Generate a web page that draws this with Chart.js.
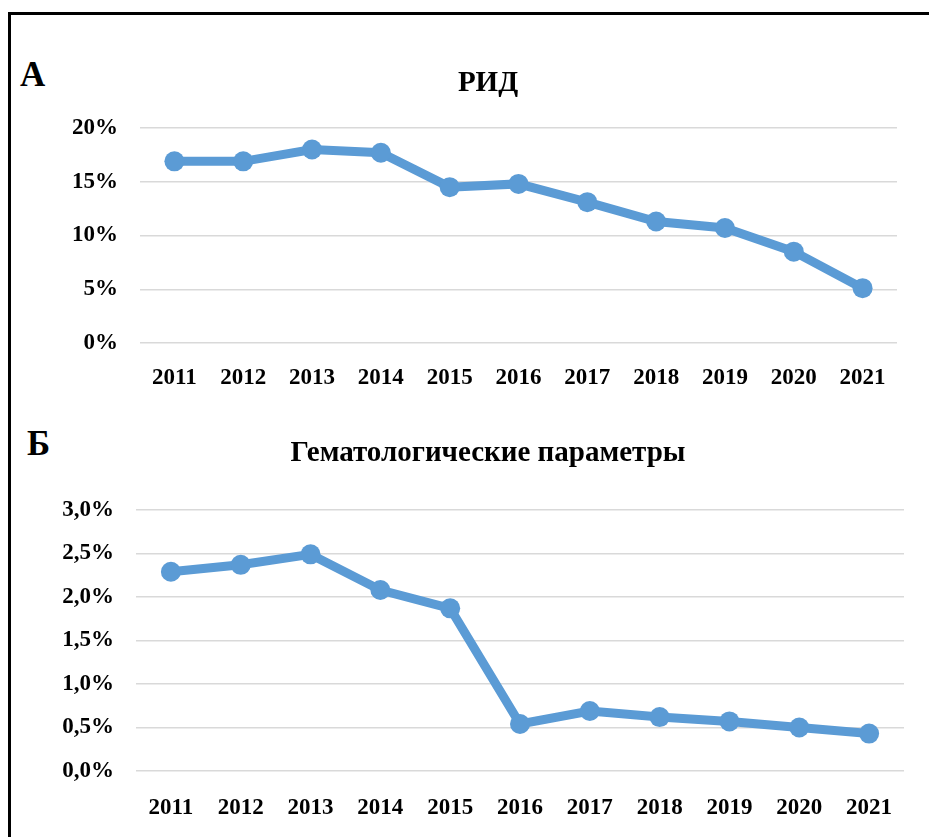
<!DOCTYPE html>
<html>
<head>
<meta charset="utf-8">
<script src="https://cdn.jsdelivr.net/npm/chart.js@4"></script>
<style>
    body { margin: 0; background: #fff; width: 929px; height: 837px; overflow: hidden; position: relative; }
    .frame { position: absolute; left: 8px; top: 12px; width: 1000px; height: 900px; border-left: 3px solid #000; border-top: 3px solid #000; }
    .letter { position: absolute; font: bold 35px "Liberation Serif", serif; line-height: 1; color: #000; }
    .box { position: absolute; left: 0; width: 976px; }
</style>
</head>
<body>
<div class="frame"></div>
<div class="letter" style="left:20px; top:57px;">А</div>
<div class="letter" style="left:27px; top:426px;">Б</div>
<div class="box" style="top:40px; height:370px;"><canvas id="chartRid"></canvas></div>
<div class="box" style="top:410px; height:427px;"><canvas id="chartHem"></canvas></div>

<script>
const years = ["2011", "2012", "2013", "2014", "2015", "2016", "2017", "2018", "2019", "2020", "2021"];
// РИД, %
const ridValues = [16.9, 16.9, 18.0, 17.7, 14.5, 14.8, 13.1, 11.3, 10.7, 8.5, 5.1];
// Гематологические параметры, %
const hemValues = [2.29, 2.37, 2.49, 2.08, 1.87, 0.54, 0.69, 0.62, 0.57, 0.50, 0.43];

const ridTicks = [0, 5, 10, 15, 20];
const hemTicks = [0, 0.5, 1.0, 1.5, 2.0, 2.5, 3.0];

const blue = "#5B9BD5";
const tickFont = { family: "Liberation Serif", size: 23, weight: "bold" };

function makeChart(id, title, values, ticksList, fmt, geo) {
    const ctx = document.getElementById(id).getContext("2d");
    return new Chart(ctx, {
        type: "line",
        data: {
            labels: years,
            datasets: [{
                data: values,
                borderColor: blue,
                backgroundColor: blue,
                borderWidth: 9,
                pointRadius: 10,
                pointHoverRadius: 10,
                pointBorderWidth: 0,
                tension: 0,
                fill: false
            }]
        },
        options: {
            responsive: true,
            maintainAspectRatio: false,
            animation: false,
            layout: { padding: 0 },
            plugins: {
                legend: { display: false },
                tooltip: { enabled: false },
                title: {
                    display: true,
                    text: title,
                    color: "#000",
                    font: { family: "Liberation Serif", size: 29, weight: "bold" },
                    padding: { top: geo.titleTop, bottom: geo.titleBottom }
                }
            },
            scales: {
                x: {
                    offset: true,
                    grid: { display: false, drawTicks: false },
                    border: { display: false },
                    ticks: { color: "#000", font: tickFont, padding: geo.xPad, maxRotation: 0, autoSkip: false },
                    afterFit: s => { s.height = geo.xHeight; }
                },
                y: {
                    min: ticksList[0],
                    max: ticksList[ticksList.length - 1],
                    afterBuildTicks: s => { s.ticks = ticksList.map(v => ({ value: v })); },
                    grid: { color: "#d9d9d9", lineWidth: 1.5, drawTicks: false },
                    border: { display: false },
                    ticks: { color: "#000", font: tickFont, padding: 22, callback: fmt },
                    afterFit: s => { s.width = geo.yWidth; }
                },
                // empty right margin, keeps the title centred like the original
                yRight: {
                    position: "right",
                    grid: { display: false },
                    border: { display: false },
                    ticks: { display: false },
                    afterFit: s => { s.width = geo.rightWidth; }
                }
            }
        }
    });
}

makeChart("chartRid", "РИД", ridValues, ridTicks, v => v + "%",
    { titleTop: 26.6, titleBottom: 26.6, xPad: 21, xHeight: 67, yWidth: 140, rightWidth: 79 });

makeChart("chartHem", "Гематологические параметры", hemValues, hemTicks, v => v.toFixed(1).replace(".", ",") + "%",
    { titleTop: 26.6, titleBottom: 38.6, xPad: 23, xHeight: 66, yWidth: 136, rightWidth: 72 });
</script>
</body>
</html>
